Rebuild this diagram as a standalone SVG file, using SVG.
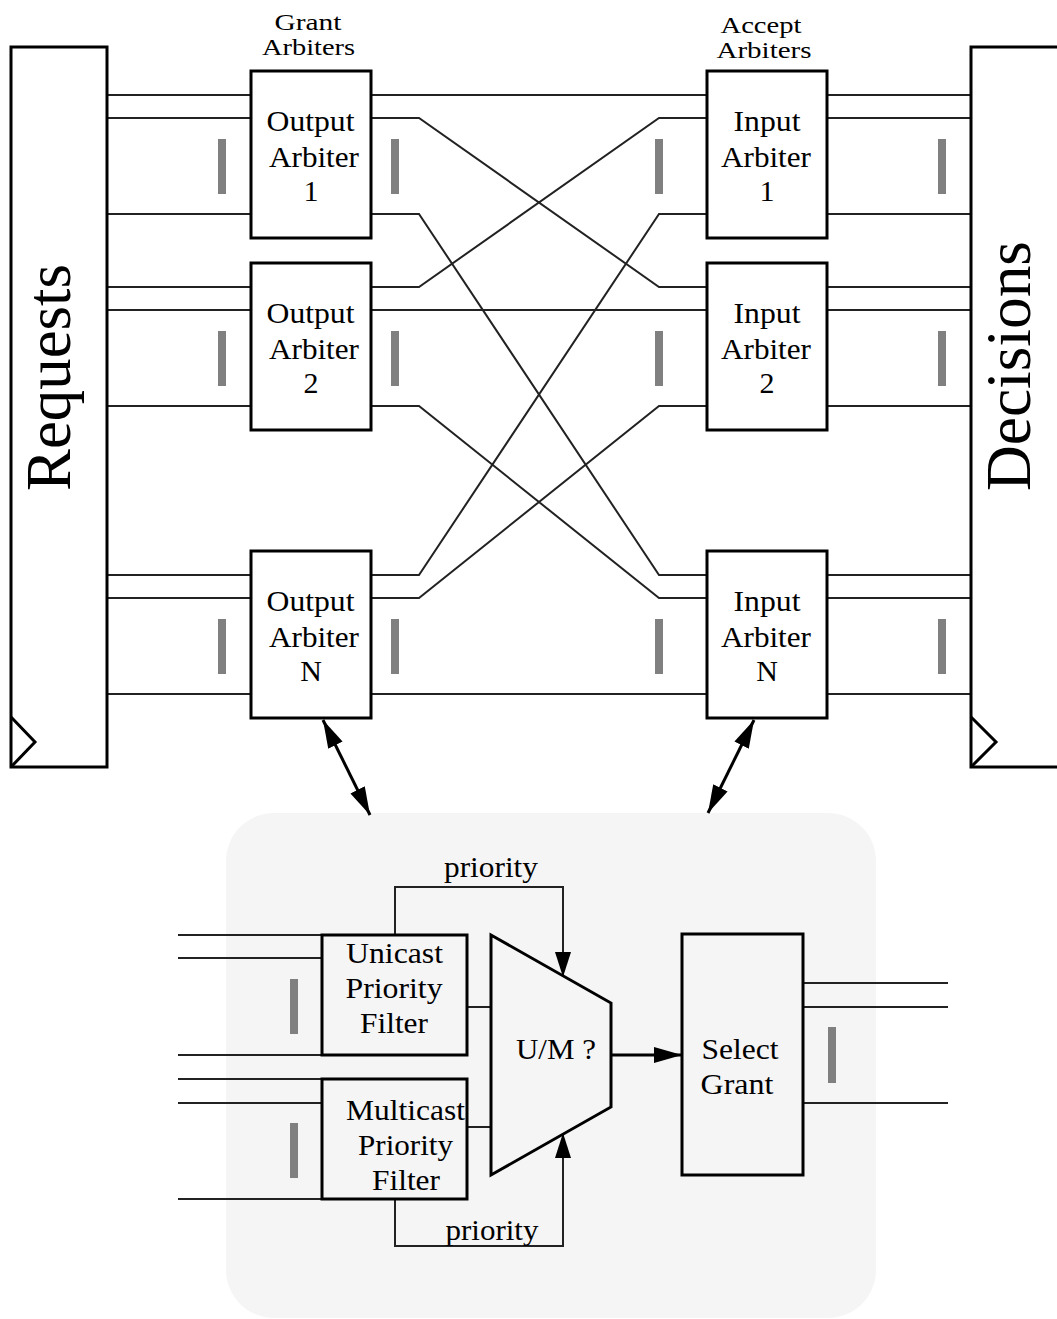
<svg xmlns="http://www.w3.org/2000/svg" width="1057" height="1319" viewBox="0 0 1057 1319">
  <defs>
    <marker id="head" viewBox="0 0 28 16" refX="28" refY="8" markerWidth="28" markerHeight="16" markerUnits="userSpaceOnUse" orient="auto-start-reverse">
      <path d="M0,0 L28,8 L0,16 Z" fill="#000"/>
    </marker>
    <marker id="headSmall" viewBox="0 0 25 16" refX="25" refY="8" markerWidth="25" markerHeight="16" markerUnits="userSpaceOnUse" orient="auto">
      <path d="M0,0 L25,8 L0,16 Z" fill="#000"/>
    </marker>
  </defs>
  <style>
    .box{fill:#fff;stroke:#000;stroke-width:3}
    .inner{fill:none;stroke:#000;stroke-width:3}
    .wire{fill:none;stroke:#222;stroke-width:2}
    .thick{fill:none;stroke:#000;stroke-width:3}
    .bar{fill:#808080}
    .t{font-family:"Liberation Serif","Times New Roman",serif;font-size:30px;fill:#000;text-anchor:middle}
    .s{font-size:24px}
    .big{font-size:63px;text-anchor:start}
  </style>

  <!-- shared background of the arbiter detail -->
  <rect id="detail-panel" x="226" y="813" width="650" height="505" rx="48" ry="48" fill="#f5f5f5"/>

  <!-- wiring -->
  <g id="connectors">
    <!-- request register to output arbiters -->
    <path class="wire" d="M107,95 H251 M107,118 H251 M107,214 H251
                          M107,287 H251 M107,310 H251 M107,406 H251
                          M107,575 H251 M107,598 H251 M107,694 H251"/>
    <!-- output arbiters to input arbiters -->
    <path class="wire" d="M371,95 H707
                          M371,118 H419 L659,287 H707
                          M371,214 H419 L659,575 H707
                          M371,287 H419 L659,118 H707
                          M371,310 H707
                          M371,406 H419 L659,598 H707
                          M371,575 H419 L659,214 H707
                          M371,598 H419 L659,406 H707
                          M371,694 H707"/>
    <!-- input arbiters to decision register -->
    <path class="wire" d="M827,95 H971 M827,118 H971 M827,214 H971
                          M827,287 H971 M827,310 H971 M827,406 H971
                          M827,575 H971 M827,598 H971 M827,694 H971"/>
    <!-- arbiter to detail links -->
    <line class="thick" x1="323" y1="720" x2="370" y2="815" marker-start="url(#head)" marker-end="url(#head)"/>
    <line class="thick" x1="754" y1="720" x2="708" y2="813" marker-start="url(#head)" marker-end="url(#head)"/>
    <!-- filter inputs -->
    <path class="wire" d="M178,935 H322 M178,958 H322 M178,1055 H322
                          M178,1079 H322 M178,1103 H322 M178,1199 H322"/>
    <!-- filters to U/M mux -->
    <path class="wire" d="M467,1007 H491 M467,1127 H491"/>
    <!-- priority feedback -->
    <path class="wire" d="M395,935 V887 H563 V977" marker-end="url(#headSmall)"/>
    <path class="wire" d="M395,1199 V1246 H563 V1133" marker-end="url(#headSmall)"/>
    <!-- mux to select -->
    <line class="thick" x1="611" y1="1055" x2="682" y2="1055" marker-end="url(#head)"/>
    <!-- grant outputs -->
    <path class="wire" d="M803,983 H948 M803,1007 H948 M803,1103 H948"/>
  </g>

  <!-- bus markers -->
  <g id="bus-marks">
    <rect class="bar" x="218" y="139" width="8" height="55"/>
    <rect class="bar" x="391" y="139" width="8" height="55"/>
    <rect class="bar" x="655" y="139" width="8" height="55"/>
    <rect class="bar" x="938" y="139" width="8" height="55"/>
    <rect class="bar" x="218" y="331" width="8" height="55"/>
    <rect class="bar" x="391" y="331" width="8" height="55"/>
    <rect class="bar" x="655" y="331" width="8" height="55"/>
    <rect class="bar" x="938" y="331" width="8" height="55"/>
    <rect class="bar" x="218" y="619" width="8" height="55"/>
    <rect class="bar" x="391" y="619" width="8" height="55"/>
    <rect class="bar" x="655" y="619" width="8" height="55"/>
    <rect class="bar" x="938" y="619" width="8" height="55"/>
    <rect class="bar" x="290" y="979" width="8" height="55"/>
    <rect class="bar" x="290" y="1123" width="8" height="55"/>
    <rect class="bar" x="828" y="1027" width="8" height="56"/>
  </g>

  <!-- request register -->
  <g id="requests">
    <rect class="box" x="11" y="47" width="96" height="720"/>
    <path class="thick" d="M11,717 L35,742 L11,767"/>
    <text class="t big" transform="translate(70,491) rotate(-90)" textLength="227" lengthAdjust="spacingAndGlyphs">Requests</text>
  </g>

  <!-- decision register -->
  <g id="decisions">
    <rect class="box" x="971" y="47" width="100" height="720"/>
    <path class="thick" d="M971,717 L996,742 L971,767"/>
    <text class="t big" transform="translate(1030,491) rotate(-90)" textLength="250" lengthAdjust="spacingAndGlyphs">Decisions</text>
  </g>

  <g id="grant-arbiters-label">
    <text class="t s" x="308" y="30" textLength="67" lengthAdjust="spacingAndGlyphs">Grant</text>
    <text class="t s" x="308.5" y="55" textLength="93" lengthAdjust="spacingAndGlyphs">Arbiters</text>
  </g>
  <g id="accept-arbiters-label">
    <text class="t s" x="761" y="33" textLength="81" lengthAdjust="spacingAndGlyphs">Accept</text>
    <text class="t s" x="764" y="58" textLength="95" lengthAdjust="spacingAndGlyphs">Arbiters</text>
  </g>

  <!-- output (grant) arbiters -->
  <g id="output-arbiter-1">
    <rect class="box" x="251" y="71" width="120" height="167"/>
    <text class="t" x="310.5" y="131" textLength="88" lengthAdjust="spacingAndGlyphs">Output</text>
    <text class="t" x="314" y="167" textLength="90" lengthAdjust="spacingAndGlyphs">Arbiter</text>
    <text class="t" x="311" y="201">1</text>
  </g>
  <g id="output-arbiter-2">
    <rect class="box" x="251" y="263" width="120" height="167"/>
    <text class="t" x="310.5" y="323" textLength="88" lengthAdjust="spacingAndGlyphs">Output</text>
    <text class="t" x="314" y="359" textLength="90" lengthAdjust="spacingAndGlyphs">Arbiter</text>
    <text class="t" x="311" y="393">2</text>
  </g>
  <g id="output-arbiter-n">
    <rect class="box" x="251" y="551" width="120" height="167"/>
    <text class="t" x="310.5" y="611" textLength="88" lengthAdjust="spacingAndGlyphs">Output</text>
    <text class="t" x="314" y="647" textLength="90" lengthAdjust="spacingAndGlyphs">Arbiter</text>
    <text class="t" x="311" y="681">N</text>
  </g>

  <!-- input (accept) arbiters -->
  <g id="input-arbiter-1">
    <rect class="box" x="707" y="71" width="120" height="167"/>
    <text class="t" x="767" y="131" textLength="67" lengthAdjust="spacingAndGlyphs">Input</text>
    <text class="t" x="766" y="167" textLength="90" lengthAdjust="spacingAndGlyphs">Arbiter</text>
    <text class="t" x="767" y="201">1</text>
  </g>
  <g id="input-arbiter-2">
    <rect class="box" x="707" y="263" width="120" height="167"/>
    <text class="t" x="767" y="323" textLength="67" lengthAdjust="spacingAndGlyphs">Input</text>
    <text class="t" x="766" y="359" textLength="90" lengthAdjust="spacingAndGlyphs">Arbiter</text>
    <text class="t" x="767" y="393">2</text>
  </g>
  <g id="input-arbiter-n">
    <rect class="box" x="707" y="551" width="120" height="167"/>
    <text class="t" x="767" y="611" textLength="67" lengthAdjust="spacingAndGlyphs">Input</text>
    <text class="t" x="766" y="647" textLength="90" lengthAdjust="spacingAndGlyphs">Arbiter</text>
    <text class="t" x="767" y="681">N</text>
  </g>

  <!-- arbiter internals -->
  <g id="unicast-filter">
    <rect class="inner" x="322" y="935" width="145" height="120"/>
    <text class="t" x="394.5" y="963" textLength="97" lengthAdjust="spacingAndGlyphs">Unicast</text>
    <text class="t" x="394" y="998" textLength="97" lengthAdjust="spacingAndGlyphs">Priority</text>
    <text class="t" x="394" y="1033" textLength="68" lengthAdjust="spacingAndGlyphs">Filter</text>
  </g>
  <g id="multicast-filter">
    <rect class="inner" x="322" y="1079" width="145" height="120"/>
    <text class="t" x="405.5" y="1120" textLength="119" lengthAdjust="spacingAndGlyphs">Multicast</text>
    <text class="t" x="405.5" y="1155" textLength="95" lengthAdjust="spacingAndGlyphs">Priority</text>
    <text class="t" x="406" y="1190" textLength="68" lengthAdjust="spacingAndGlyphs">Filter</text>
  </g>
  <g id="um-mux">
    <polygon class="inner" points="491,935 611,1003 611,1107 491,1175"/>
    <text class="t" x="556" y="1059" textLength="80" lengthAdjust="spacingAndGlyphs">U/M ?</text>
  </g>
  <g id="select-grant">
    <rect class="inner" x="682" y="934" width="121" height="241"/>
    <text class="t" x="740" y="1059" textLength="77" lengthAdjust="spacingAndGlyphs">Select</text>
    <text class="t" x="737" y="1094" textLength="73" lengthAdjust="spacingAndGlyphs">Grant</text>
  </g>
  <g id="priority-labels">
    <text class="t" x="491" y="877" textLength="94" lengthAdjust="spacingAndGlyphs">priority</text>
    <text class="t" x="492" y="1240" textLength="93" lengthAdjust="spacingAndGlyphs">priority</text>
  </g>
</svg>
